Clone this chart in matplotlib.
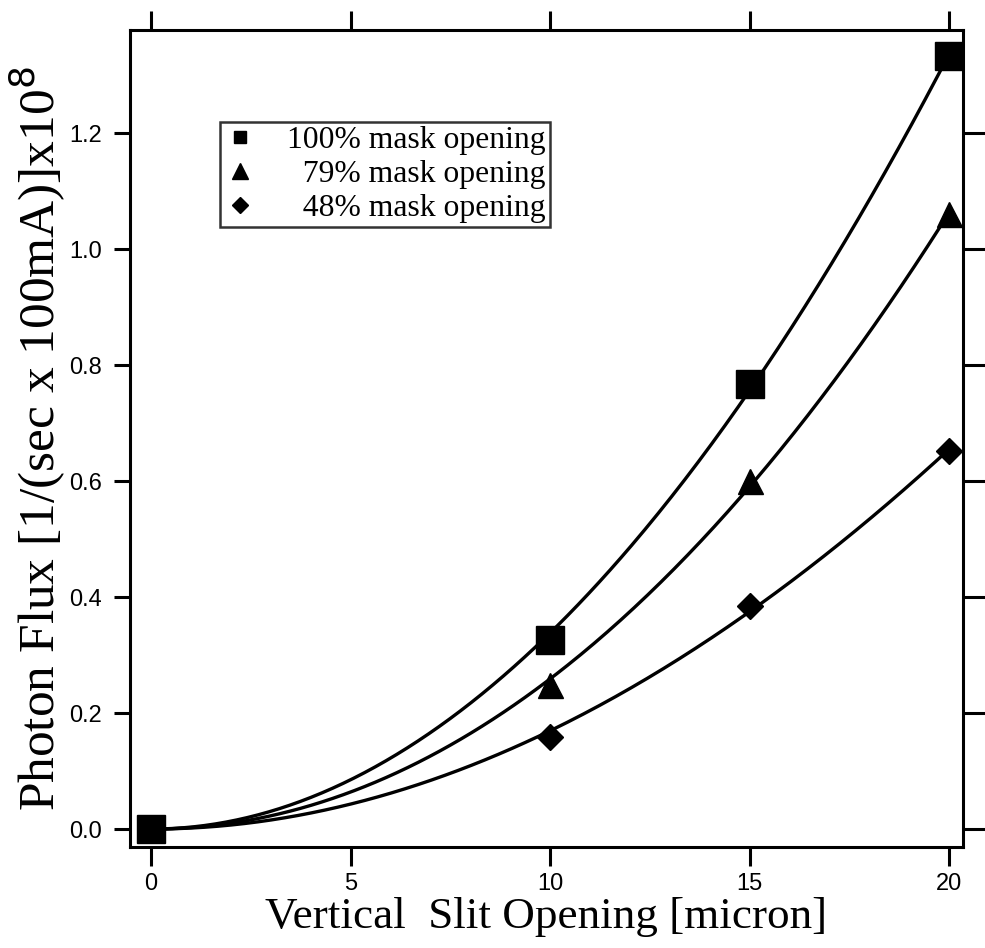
import numpy as np
import matplotlib
matplotlib.use("Agg")
import matplotlib.pyplot as plt
from matplotlib.lines import Line2D

# Slit openings [micron] and measured photon flux [1/(sec x 100mA)] x 1e8
slit = [0, 10, 15, 20]
flux_100 = [0.0, 0.326, 0.767, 1.333]
flux_79 = [0.0, 0.248, 0.600, 1.060]
flux_48 = [0.0, 0.158, 0.385, 0.652]

labels = ["100% mask opening", "  79% mask opening", "  48% mask opening"]
xticks = [0, 5, 10, 15, 20]
yticks = [0.0, 0.2, 0.4, 0.6, 0.8, 1.0, 1.2]

SERIF = "Liberation Serif"
SANS = "Liberation Sans"

fig = plt.figure(figsize=(9.85, 9.48), dpi=100)
ax = fig.add_axes([0.132, 0.1065, 0.8457, 0.862])


def smooth_fit(x, y):
    # least-squares fit y = b x^2 + c x^3 (flat start at the origin)
    x = np.asarray(x, float)
    y = np.asarray(y, float)
    A = np.column_stack([x**2, x**3])
    coef, *_ = np.linalg.lstsq(A, y, rcond=None)
    xs = np.linspace(0, max(x), 300)
    return xs, coef[0] * xs**2 + coef[1] * xs**3


series = [
    (flux_100, "s", 19.5),
    (flux_79, "^", 18.0),
    (flux_48, "D", 13.5),
]

for vals, mk, ms in series:
    xs, ys = smooth_fit(slit, vals)
    ax.plot(xs, ys, color="black", lw=2.4, zorder=2)
    ax.plot(slit, vals, linestyle="none", marker=mk, ms=ms,
            color="black", zorder=3, clip_on=False)

ax.set_xlim(-0.53, 20.35)
ax.set_ylim(-0.031, 1.378)

ax.set_xticks(xticks)
ax.set_xticklabels([str(t) for t in xticks], fontfamily=SANS, fontsize=17)
ax.set_yticks(yticks)
ax.set_yticklabels([f"{t:.1f}" for t in yticks], fontfamily=SANS, fontsize=17)

ax.tick_params(axis="x", direction="out", length=14, width=2.2, pad=5,
               top=True, labeltop=False)
ax.tick_params(axis="y", direction="out", length=11.5, width=2.2, pad=9,
               right=True, labelright=False)
for t in ax.yaxis.get_major_ticks():
    t.tick2line.set_markersize(16)

for sp in ax.spines.values():
    sp.set_linewidth(2.2)

ax.set_xlabel("Vertical  Slit Opening [micron]", fontfamily=SERIF,
              fontsize=32.5, labelpad=1)
ax.set_ylabel(r"Photon Flux [1/(sec x 100mA)]x10$^{8}$", fontfamily=SERIF,
              fontsize=37)
ax.yaxis.set_label_coords(-0.075, 0.5)

handles = [
    Line2D([], [], linestyle="none", marker="s", ms=9, color="black"),
    Line2D([], [], linestyle="none", marker="^", ms=11, color="black"),
    Line2D([], [], linestyle="none", marker="D", ms=8, color="black"),
]
leg = ax.legend(handles, labels, loc="upper left",
                bbox_to_anchor=(0.108, 0.887), borderaxespad=0,
                frameon=True, fancybox=False, edgecolor="black",
                prop={"family": SERIF, "size": 22.8},
                handlelength=1.0, handletextpad=1.0, labelspacing=0.15,
                borderpad=0.12)
leg.get_frame().set_linewidth(1.8)

fig.savefig("out.png", dpi=100, facecolor="white")
